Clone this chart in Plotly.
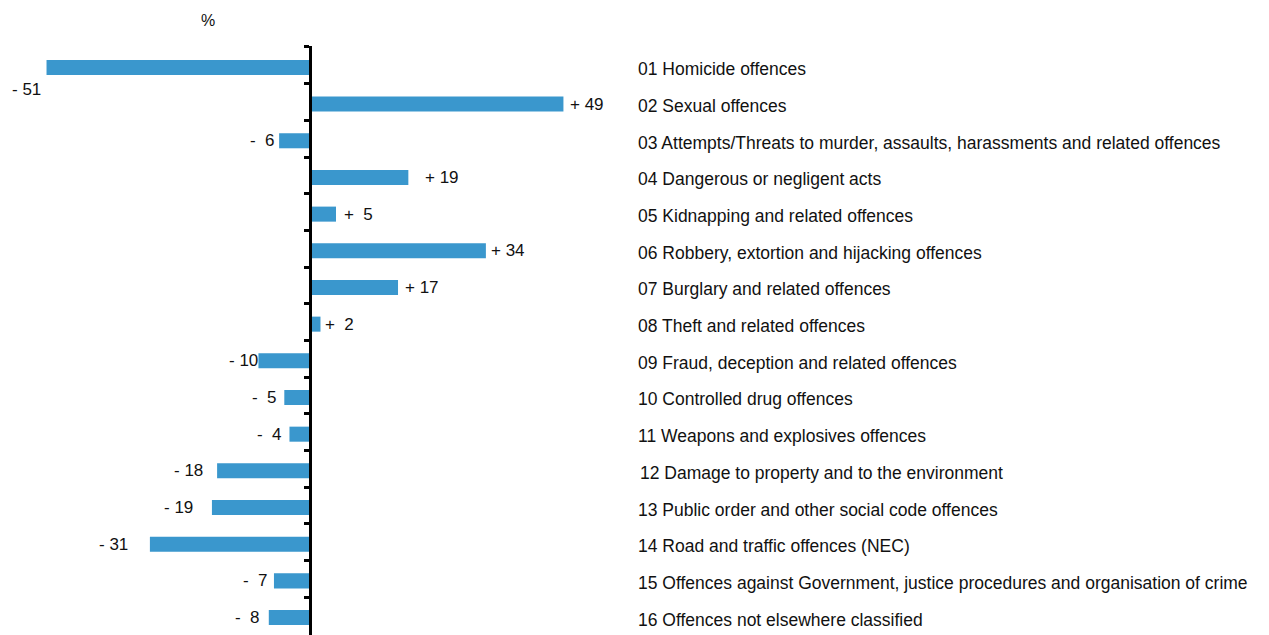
import plotly.graph_objects as go

categories = [
    "01 Homicide offences",
    "02 Sexual offences",
    "03 Attempts/Threats to murder, assaults, harassments and related offences",
    "04 Dangerous or negligent acts",
    "05 Kidnapping and related offences",
    "06 Robbery, extortion and hijacking offences",
    "07 Burglary and related offences",
    "08 Theft and related offences",
    "09 Fraud, deception and related offences",
    "10 Controlled drug offences",
    "11 Weapons and explosives offences",
    "12 Damage to property and to the environment",
    "13 Public order and other social code offences",
    "14 Road and traffic offences (NEC)",
    "15 Offences against Government, justice procedures and organisation of crime",
    "16 Offences not elsewhere classified",
]
values = [-51, 49, -6, 19, 5, 34, 17, 2, -10, -5, -4, -18, -19, -31, -7, -8]

# label placement (pixels) relative to bar ends
label_xshift = [-6, 7, -4, 17, 8, 5, 7, 5, 0, -7, -7, -14, -19, -22, -6, -9]
label_yshift = [-22, 0, 0, 0, 0, 0, 0, 0, 0, 0, 0, 0, 0, 0, 0, 0]
cat_xshift = [0, 0, 0, 0, 0, 0, 0, 0, 0, 0, 0, 2, 0, 0, 0, 0]

W, H = 1269, 635
X_MIN, X_MAX = -60, 185.5
FONT = "Liberation Sans, Arial, sans-serif"
BAR_COLOR = "#3a97cd"

ypos = list(range(len(values)))

def fmt(v):
    sign = "+" if v >= 0 else "-"
    a = abs(v)
    if a < 10:
        return f"{sign}\u00a0\u00a0{a}"
    return f"{sign}\u00a0{a}"

fig = go.Figure()
fig.add_trace(go.Bar(
    x=values, y=ypos, orientation="h",
    marker=dict(color=BAR_COLOR, line=dict(width=0)),
    width=0.41, hoverinfo="x+y",
))

annotations = []
for i, v in enumerate(values):
    annotations.append(dict(
        x=v, y=i, xref="x", yref="y", text=fmt(v), showarrow=False,
        xanchor="left" if v >= 0 else "right", yanchor="middle",
        xshift=label_xshift[i], yshift=label_yshift[i],
        borderpad=0, borderwidth=0,
        font=dict(family=FONT, size=17, color="#111111"),
    ))
    annotations.append(dict(
        x=638 / W, y=i, xref="paper", yref="y", text=categories[i], showarrow=False,
        xanchor="left", yanchor="middle", xshift=cat_xshift[i], yshift=-2,
        borderpad=0, borderwidth=0,
        font=dict(family=FONT, size=17.5, color="#111111"),
    ))

annotations.append(dict(
    x=208 / W, y=(635 - 20) / 589, xref="paper", yref="paper", text="%",
    showarrow=False, xanchor="center", yanchor="middle",
    borderpad=0, borderwidth=0,
    font=dict(family=FONT, size=16, color="#111111"),
))

fig.update_layout(
    width=W, height=H,
    margin=dict(l=0, r=0, t=46, b=0),
    paper_bgcolor="white", plot_bgcolor="white",
    showlegend=False,
    annotations=annotations,
    xaxis=dict(range=[X_MIN, X_MAX], visible=False, showgrid=False, zeroline=False),
    yaxis=dict(
        range=[15.476, -0.584],
        anchor="free", position=(0 - X_MIN) / (X_MAX - X_MIN),
        showline=True, linecolor="black", linewidth=3,
        ticks="outside", ticklen=5, tickwidth=2.5, tickcolor="black",
        tickvals=[k - 0.557 for k in range(len(values))],
        showticklabels=False, showgrid=False, zeroline=False,
    ),
)

fig.write_html(
    "out.html",
    config={"displayModeBar": False},
    post_script="document.body.style.margin='0';document.body.style.overflow='hidden';",
)
